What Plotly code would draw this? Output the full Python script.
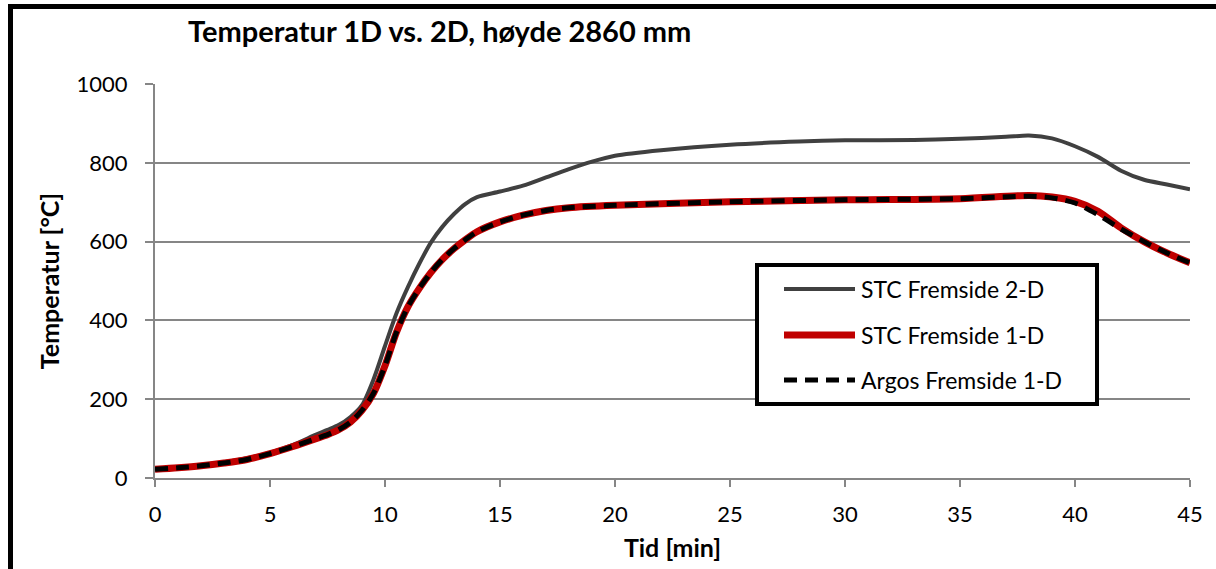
import plotly.graph_objects as go

# Time axis (minutes) and temperatures (°C) for each series
t_2d = [0, 1, 2, 3, 4, 5, 6, 7, 7.5, 8, 8.5, 9, 9.5, 10, 10.5, 11, 11.5, 12, 12.5, 13, 13.5, 14, 15,
        16, 17, 18, 19, 20, 22, 25, 28, 30, 33, 35, 37, 38, 39, 40, 41, 42, 43, 44, 45]
stc_2d = [22, 27, 33, 40, 50, 64, 84, 110, 122, 135, 155, 185, 250, 335, 418, 485, 545, 598, 638, 670, 696, 713, 727,
          742, 763, 784, 803, 818, 832, 846, 854, 857, 858, 861, 866, 869, 862, 842, 815, 780, 757, 745, 733]

t_1d = [0, 1, 2, 3, 4, 5, 6, 7, 7.5, 8, 8.5, 9, 9.5, 10, 10.5, 11, 11.5, 12, 12.5, 13, 13.5, 14, 15,
        16, 17, 18, 20, 25, 30, 35, 38, 39, 40, 41, 42, 43, 44, 45]
stc_1d = [22, 26, 31, 38, 47, 62, 80, 100, 110, 123, 142, 172, 215, 285, 370, 435, 482, 522, 555, 582, 605, 625, 650,
          667, 679, 686, 692, 701, 706, 709, 717, 713, 702, 677, 635, 600, 571, 546]
argos_1d = [22, 26, 31, 38, 47, 62, 80, 100, 110, 123, 142, 172, 215, 285, 370, 435, 482, 522, 555, 582, 605, 625, 650,
            667, 679, 686, 692, 701, 706, 709, 715, 711, 698, 668, 632, 600, 571, 546]

series_names = ["STC Fremside 2-D", "STC Fremside 1-D", "Argos Fremside 1-D"]
x_ticks = [0, 5, 10, 15, 20, 25, 30, 35, 40, 45]
y_ticks = [0, 200, 400, 600, 800, 1000]

FONT = "Lato"
GRID = "#868686"
GRAY = "#404040"
RED = "#C00000"

fig = go.Figure()
fig.add_trace(go.Scatter(x=t_2d, y=stc_2d, mode="lines", name=series_names[0],
                         line=dict(color=GRAY, width=4, shape="spline", smoothing=0.8)))
fig.add_trace(go.Scatter(x=t_1d, y=stc_1d, mode="lines", name=series_names[1],
                         line=dict(color=RED, width=7, shape="spline", smoothing=0.8)))
fig.add_trace(go.Scatter(x=t_1d, y=argos_1d, mode="lines", name=series_names[2],
                         line=dict(color="#000000", width=5, dash="13px,8px", shape="spline", smoothing=0.8)))

# Plot area spans pixels x 155..1190, y 84..478
L, R, T, B = 155, 1190, 84, 478
W, H = 1216, 569


def px(xp):
    return (xp - L) / (R - L)


def py(yp):
    return (B - yp) / (B - T)


shapes = []
annotations = []

# Outer chart frame
shapes.append(dict(type="rect", xref="paper", yref="paper",
                   x0=px(10.5), x1=px(1240), y0=py(6.5), y1=py(600),
                   line=dict(color="#000000", width=5), layer="above"))

# Legend box
shapes.append(dict(type="rect", xref="paper", yref="paper",
                   x0=px(757), x1=px(1097), y0=py(265), y1=py(404),
                   line=dict(color="#000000", width=4), fillcolor="#ffffff", layer="above"))
legend_rows = [
    (289, dict(color=GRAY, width=4)),
    (335, dict(color=RED, width=7)),
    (380, dict(color="#000000", width=5, dash="13px,8px")),
]
for (ypix, ln), name in zip(legend_rows, series_names):
    shapes.append(dict(type="line", xref="paper", yref="paper",
                       x0=px(784), x1=px(855), y0=py(ypix), y1=py(ypix),
                       line=ln, layer="above"))
    annotations.append(dict(xref="paper", yref="paper", x=px(859), y=py(ypix),
                            xanchor="left", yanchor="middle", showarrow=False,
                            text=name, font=dict(family=FONT, size=23, color="#000000")))

# Title
annotations.append(dict(xref="paper", yref="paper", x=px(186), y=py(31),
                        xanchor="left", yanchor="middle", showarrow=False,
                        text="<b>Temperatur 1D vs. 2D, høyde 2860 mm</b>",
                        font=dict(family=FONT, size=29, color="#000000")))

fig.update_layout(
    width=W, height=H, autosize=False,
    margin=dict(l=L, r=W - R, t=T, b=H - B, pad=0),
    paper_bgcolor="#ffffff", plot_bgcolor="#ffffff",
    showlegend=False,
    font=dict(family=FONT, size=22, color="#000000"),
    shapes=shapes, annotations=annotations,
    xaxis=dict(range=[0, 45], tickvals=x_ticks, ticks="outside", ticklen=7, tickwidth=2,
               tickcolor=GRID, showline=True, linecolor=GRID, linewidth=2,
               showgrid=False, zeroline=False, ticklabelstandoff=9,
               tickfont=dict(family=FONT, size=22),
               title=dict(text="<b>Tid [min]</b>", font=dict(family=FONT, size=25), standoff=13)),
    yaxis=dict(range=[0, 1000], tickvals=y_ticks, ticks="outside", ticklen=8, tickwidth=2,
               tickcolor=GRID, showline=True, linecolor=GRID, linewidth=2,
               showgrid=True, gridcolor=GRID, gridwidth=2, zeroline=False,
               ticklabelstandoff=13, tickfont=dict(family=FONT, size=22),
               title=dict(text="<b>Temperatur [°C]</b>", font=dict(family=FONT, size=25), standoff=10)),
)

fig.write_html("out.html")
